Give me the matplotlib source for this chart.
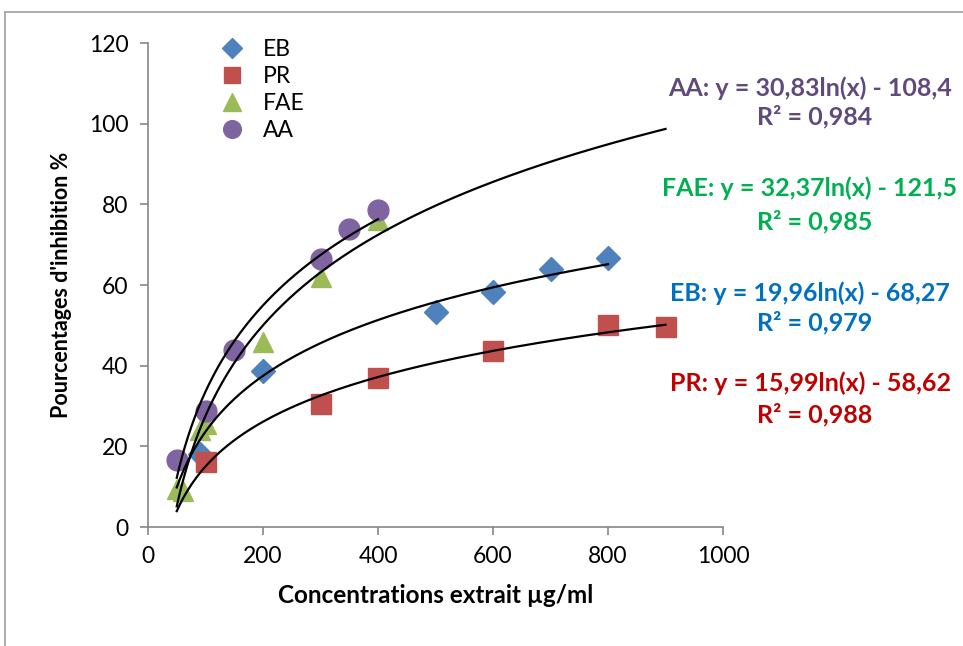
import numpy as np
import matplotlib
matplotlib.use("Agg")
import matplotlib.pyplot as plt
from matplotlib.lines import Line2D

plt.rcParams['font.family'] = ['Lato', 'DejaVu Sans']

# measured points
eb_x = [90, 200, 500, 600, 700, 800]
eb_y = [18.2, 38.7, 53.3, 58.2, 63.9, 66.8]
pr_x = [100, 300, 400, 600, 800, 900]
pr_y = [16.2, 30.5, 37.0, 43.6, 50.2, 49.7]
fae_x = [50, 60, 90, 100, 200, 300, 400]
fae_y = [9.5, 9.0, 24.0, 25.5, 45.9, 62.1, 76.0]
aa_x = [50, 100, 150, 300, 350, 400]
aa_y = [16.5, 28.8, 43.9, 66.4, 73.8, 78.6]

# log trendlines  y = a*ln(x) + b, drawn from x0 to x1
trends = {
    'AA': (30.83, -108.4, 50, 400),
    'FAE': (32.37, -121.5, 50, 900),
    'EB': (19.96, -68.27, 50, 800),
    'PR': (15.99, -58.62, 50, 900),
}
labels = {
    'AA': ('AA: y = 30,83ln(x) - 108,4', 'R² = 0,984', '#604A7B'),
    'FAE': ('FAE: y = 32,37ln(x) - 121,5', 'R² = 0,985', '#00B050'),
    'EB': ('EB: y = 19,96ln(x) - 68,27', 'R² = 0,979', '#0070C0'),
    'PR': ('PR: y = 15,99ln(x) - 58,62', 'R² = 0,988', '#C00000'),
}

fig = plt.figure(figsize=(9.63, 6.46), dpi=100)
ax = fig.add_axes([148/963, 1-527/646, (723-148)/963, (527-43)/646])

ax.plot(eb_x, eb_y, 'D', color='#4F81BD', ms=12, ls='none', label='EB', zorder=3)
ax.plot(pr_x, pr_y, 's', color='#C0504D', ms=14, ls='none', label='PR', zorder=3)
ax.plot(fae_x, fae_y, '^', color='#9BBB59', ms=15, ls='none', label='FAE', zorder=3)
ax.plot(aa_x, aa_y, 'o', color='#8064A2', ms=15, ls='none', label='AA', zorder=3)

for k, (a, b, x0, x1) in trends.items():
    xs = np.linspace(x0, x1, 300)
    ax.plot(xs, a*np.log(xs) + b, color='black', lw=1.6, zorder=4)

ax.set_xlim(0, 1000)
ax.set_ylim(0, 120)
ax.set_xticks(range(0, 1001, 200))
ax.set_yticks(range(0, 121, 20))
for s in ['top', 'right']:
    ax.spines[s].set_visible(False)
for s in ['left', 'bottom']:
    ax.spines[s].set_color('#868686')
    ax.spines[s].set_linewidth(1.2)
ax.tick_params(colors='#868686', labelcolor='black', labelsize=16.5, length=6, width=1.2)
ax.tick_params(axis='y', pad=8)
ax.tick_params(axis='x', pad=8)

ax.set_xlabel('Concentrations extrait µg/ml', fontsize=17.5, fontweight='bold', labelpad=12)
ax.set_ylabel("Pourcentages d'inhibition %", fontsize=15.5, fontweight='bold', labelpad=12)

leg = ax.legend(loc='upper left', bbox_to_anchor=(0.07, 1.05), frameon=False,
                fontsize=16.5, handletextpad=0.35, labelspacing=0.25, markerscale=0.85)

pos = {'AA': (88, 117), 'FAE': (188, 222), 'EB': (293, 323), 'PR': (383, 415)}
for k, (l1, l2, c) in labels.items():
    y1, y2 = pos[k]
    fig.text(810/963, 1-y1/646, l1, color=c, fontsize=18, fontweight='bold', ha='center', va='center')
    fig.text(815/963, 1-y2/646, l2, color=c, fontsize=18, fontweight='bold', ha='center', va='center')

# outer chart frame
fig.add_artist(Line2D([5/963, 5/963], [0, 1-12/646], color='#A0A0A0', lw=1.2))
fig.add_artist(Line2D([5/963, 1], [1-12/646, 1-12/646], color='#A0A0A0', lw=1.2))

fig.savefig('out.png', dpi=100)
